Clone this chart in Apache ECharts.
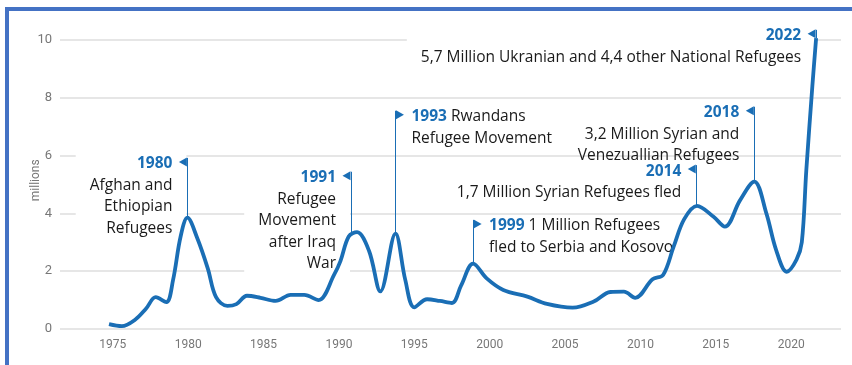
<!DOCTYPE html>
<html>
<head>
<meta charset="utf-8">
<script src="https://cdn.jsdelivr.net/npm/echarts@6/dist/echarts.min.js"></script>
<style>
  html, body { margin: 0; padding: 0; background: #fff; }
  #main { width: 852px; height: 365px; }
</style>
</head>
<body>
<div id="main"></div>
<script>
// refugee curve (x = year position, y = millions)
var years = [1974.75, 1975.6, 1976.5, 1977.2, 1977.85, 1978.55, 1979.0, 1979.5, 1979.95, 1980.6,
  1981.3, 1981.85, 1982.6, 1983.2, 1983.9, 1984.8, 1985.8, 1986.8, 1987.7, 1988.65,
  1989.7, 1990.1, 1990.65, 1991.2, 1992.0, 1992.75, 1993.75, 1994.4, 1995.0, 1995.85, 1996.7,
  1997.5, 1998.1, 1998.9, 1999.8, 2000.9, 2002.5, 2003.8, 2005.5, 2006.9, 2008.0,
  2008.9, 2009.65, 2010.8, 2011.5, 2012.2, 2012.9, 2013.75, 2014.85, 2015.6, 2016.6,
  2017.55, 2018.35, 2019.0, 2019.7, 2020.35, 2020.7, 2021.0, 2021.4, 2021.65];
var values = [0.17, 0.10, 0.33, 0.70, 1.10, 0.93, 1.7, 3.2, 3.85, 3.15,
  2.1, 1.1, 0.8, 0.86, 1.15, 1.08, 0.97, 1.18, 1.18, 1.0,
  1.9, 2.35, 3.2, 3.35, 2.7, 1.3, 3.3, 1.7, 0.75, 1.03, 0.97,
  0.9, 1.5, 2.26, 1.75, 1.35, 1.12, 0.87, 0.74, 0.95, 1.28,
  1.29, 1.08, 1.72, 1.87, 2.85, 3.8, 4.26, 3.88, 3.54, 4.45,
  5.1, 4.0, 2.73, 1.98, 2.4, 3.0, 5.5, 8.4, 10.06];

// annotations
var annoX = [1979.95, 1990.8, 1993.75, 1998.9, 2013.7, 2017.55, 2021.65];
var annoPeak = [3.83, 3.3, 3.29, 2.25, 4.26, 5.1, 10.06];
var annoTop = [5.92, 5.44, 7.55, 3.77, 5.67, 7.69, 10.35];
var annoSide = ['left', 'left', 'right', 'right', 'left', 'left', 'left'];
var annoYear = ['1980', '1991', '1993', '1999', '2014', '2018', '2022'];
var annoText = [
  ['Afghan and', 'Ethiopian', 'Refugees'],
  ['Refugee', 'Movement', 'after Iraq', 'War'],
  ['Rwandans', 'Refugee Movement'],
  ['1 Million Refugees', 'fled to Serbia and Kosovo'],
  ['1,7 Million Syrian Refugees fled'],
  ['3,2 Million Syrian and', 'Venezuallian Refugees'],
  ['5,7 Million Ukranian and 4,4 other National Refugees']
];

var BLUE = '#1a6eb5';
var FONT = 'Open Sans';
var LH = 21.5;

var lineData = years.map(function (y, i) { return [y, values[i]]; });

var markLines = [], flags = [], labels = [];
annoX.forEach(function (x, i) {
  var left = annoSide[i] === 'left';
  markLines.push([{ coord: [x, annoPeak[i]] }, { coord: [x, annoTop[i]] }]);
  flags.push({
    coord: [x, annoTop[i]],
    symbolRotate: left ? 90 : -90,
    symbolOffset: [left ? -4.5 : 4.5, 4]
  });
  var txt;
  if (left) {
    txt = ['{y|' + annoYear[i] + '}'].concat(annoText[i].map(function (s) { return '{t|' + s + '}'; })).join('\n');
  } else {
    txt = '{y|' + annoYear[i] + '} {t|' + annoText[i][0] + '}' +
      annoText[i].slice(1).map(function (s) { return '\n{t|' + s + '}'; }).join('');
  }
  labels.push({
    coord: [x, annoTop[i]],
    label: {
      show: true,
      position: 'inside',
      align: left ? 'right' : 'left',
      verticalAlign: 'top',
      offset: [left ? -1 : 2, 6 - LH / 2],
      // the 2018 note sits over a gridline that stays visible in the source
      backgroundColor: i === 5 ? 'transparent' : '#fff',
      formatter: txt
    }
  });
});

var chart = echarts.init(document.getElementById('main'));
chart.setOption({
  animation: false,
  grid: { left: 60, right: 11, top: 25.5, bottom: 36 },
  xAxis: {
    type: 'value', min: 1971.5, max: 2023.3, interval: 0.5,
    axisLine: { show: false }, axisTick: { show: false }, splitLine: { show: false },
    axisLabel: {
      color: '#777', fontSize: 12, fontFamily: 'Roboto', margin: 10,
      formatter: function (v) { return Math.abs(v % 5) < 1e-6 ? String(Math.round(v)) : ''; }
    }
  },
  yAxis: {
    type: 'value', min: 0, max: 10.5, interval: 2,
    name: 'millions', nameLocation: 'middle', nameGap: 18, nameMoveOverlap: false,
    nameTextStyle: { color: '#777', fontSize: 12, fontFamily: 'Roboto', padding: [0, 6, 0, 0] },
    axisLine: { show: false }, axisTick: { show: false },
    axisLabel: { color: '#777', fontSize: 13, fontFamily: 'Roboto', margin: 8, showMaxLabel: false },
    splitLine: { showMaxLine: false, lineStyle: { color: '#dedede', width: 1.5 } }
  },
  graphic: [
    { type: 'rect', shape: { x: 5, y: 7, width: 847, height: 4 }, style: { fill: '#4472c4' } },
    { type: 'rect', shape: { x: 5, y: 7, width: 4, height: 358 }, style: { fill: '#4472c4' } }
  ],
  series: [
    {
      type: 'scatter', data: [], z: 1, silent: true,
      markPoint: {
        z: 1, symbol: 'circle', symbolSize: 1,
        itemStyle: { color: 'rgba(0,0,0,0)' },
        label: {
          fontFamily: FONT, fontSize: 15.5, color: '#1a1a1a',
          padding: [0, 14, 0, 14],
          rich: {
            y: { color: BLUE, fontWeight: 'bold', fontFamily: FONT, fontSize: 15.5, lineHeight: LH },
            t: { color: '#1a1a1a', fontFamily: FONT, fontSize: 15.5, lineHeight: LH }
          }
        },
        data: labels
      }
    },
    {
      type: 'line', data: lineData, smooth: 0.35, showSymbol: false, clip: false, z: 3,
      lineStyle: { color: BLUE, width: 3.8 },
      itemStyle: { color: BLUE },
      markLine: {
        silent: true, symbol: ['none', 'none'], label: { show: false },
        lineStyle: { color: BLUE, width: 1, type: 'solid' },
        data: markLines
      },
      markPoint: {
        silent: true, symbol: 'triangle', symbolSize: [9, 8],
        itemStyle: { color: BLUE }, label: { show: false },
        data: flags
      }
    }
  ]
});
</script>
</body>
</html>
